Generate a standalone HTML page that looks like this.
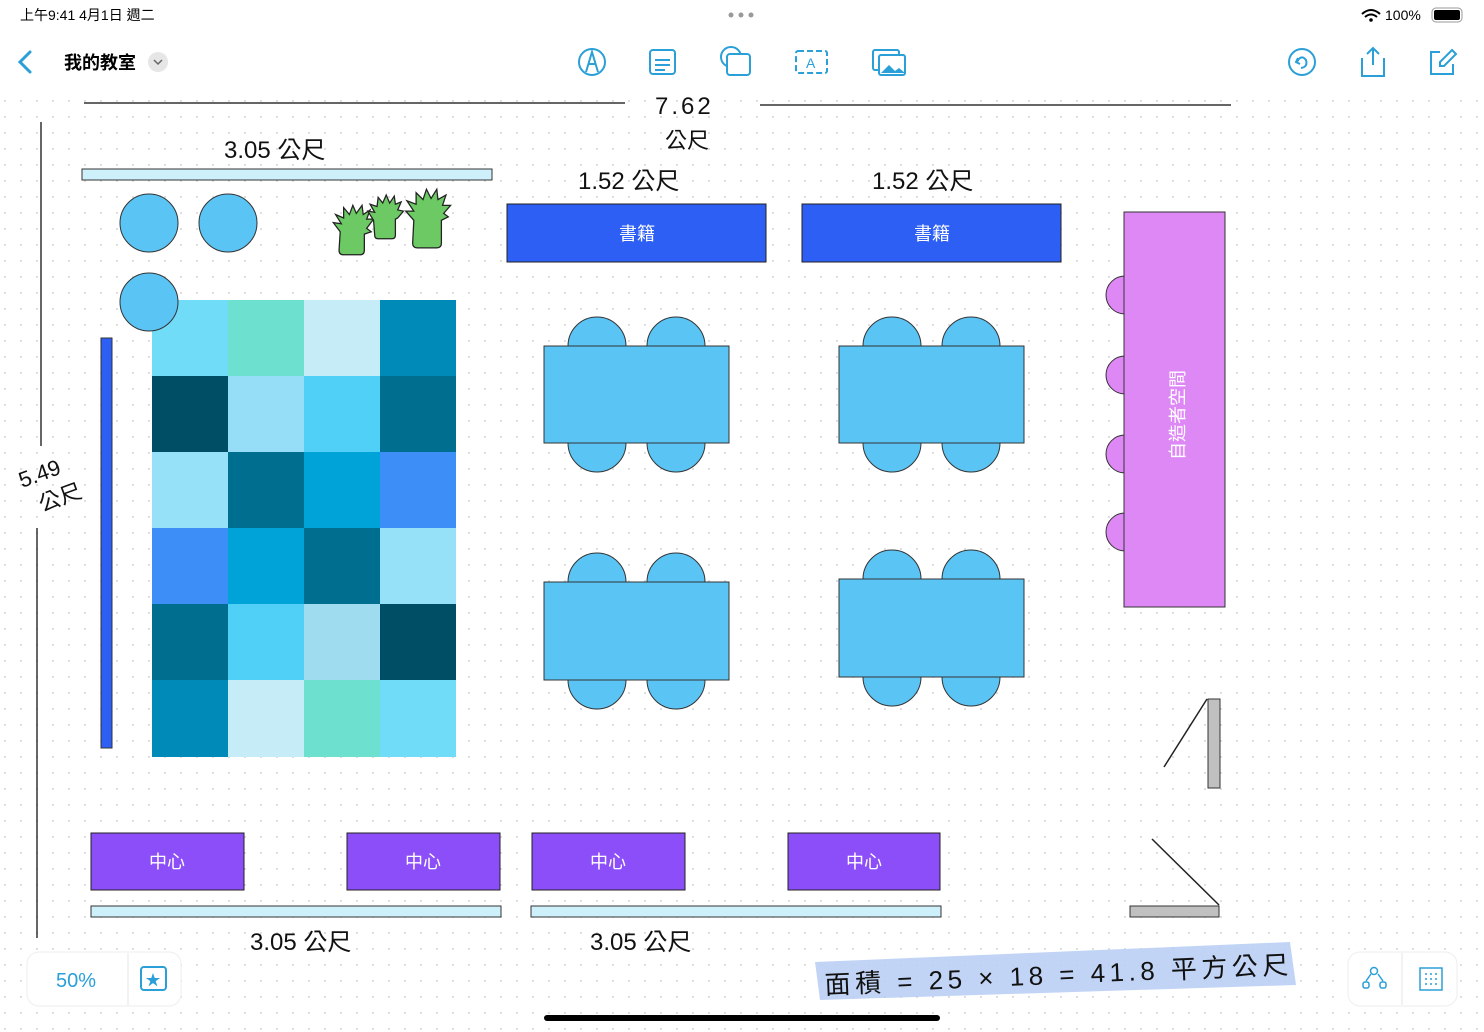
<!DOCTYPE html>
<html><head><meta charset="utf-8"><style>
html,body{margin:0;padding:0;width:1484px;height:1032px;overflow:hidden;background:#fff;font-family:"Liberation Sans","Noto Sans CJK TC",sans-serif}
svg{position:absolute;left:0;top:0}
</style></head><body>
<svg width="1484" height="1032" viewBox="0 0 1484 1032" xmlns="http://www.w3.org/2000/svg" font-family="Liberation Sans, Noto Sans CJK TC, sans-serif">
<defs>
<pattern id="dots" width="16" height="16" patternUnits="userSpaceOnUse" x="4" y="4"><circle cx="1" cy="1" r="1" fill="#d4d4d4"/></pattern>
</defs>
<rect x="0" y="90" width="1484" height="942" fill="url(#dots)"/>
<!-- status bar -->
<text x="20" y="20" font-size="14" fill="#000">上午9:41  4月1日 週二</text>
<circle cx="731" cy="15" r="2.5" fill="#999"/><circle cx="741" cy="15" r="2.5" fill="#999"/><circle cx="751" cy="15" r="2.5" fill="#999"/>
<text x="1385" y="20" font-size="14" fill="#000">100%</text>
<path d="M1362 14 q9 -8 18 0 M1365 17 q6 -5 12 0" stroke="#000" stroke-width="2" fill="none"/><circle cx="1371" cy="20" r="1.8"/>
<rect x="1432" y="8" width="30" height="14" rx="4" fill="none" stroke="#999"/><rect x="1434" y="10" width="26" height="10" rx="2" fill="#000"/>
<!-- toolbar -->
<path d="M30 52 L20 62 L30 72" stroke="#2a9fd8" stroke-width="3" fill="none" stroke-linecap="round"/>
<text x="64" y="69" font-size="18" font-weight="bold" fill="#000">我的教室</text>
<circle cx="158" cy="62" r="10" fill="#e6e6e6"/><path d="M154 60 l4 4 l4 -4" stroke="#666" stroke-width="1.5" fill="none"/>
<g stroke="#2a9fd8" stroke-width="2" fill="none">
<circle cx="592" cy="62" r="13"/><path d="M586 72 L592 52 L598 72 M589 64 h6"/>
<rect x="650" y="50" width="25" height="24" rx="3"/><path d="M655 60 h15 M655 65 h15 M655 70 h10"/>
<circle cx="731" cy="57" r="10"/><rect x="727" y="54" width="23" height="21" rx="3" fill="#fff"/>
<rect x="796" y="51" width="31" height="22" rx="2" stroke-dasharray="6 3"/>
<rect x="873" y="50" width="26" height="20" rx="2"/><rect x="879" y="55" width="26" height="20" rx="2" fill="#fff"/>
<circle cx="1302" cy="62" r="13"/><path d="M1298 58 l-2 4 l4 2 M1297 62 q4 -8 9 -2 q2 7 -5 8"/>
<path d="M1362 58 v18 h22 v-18 M1373 48 v17 M1367 54 l6 -6 l6 6"/>
<path d="M1440 52 h-9 v22 h22 v-10 M1452 50 l4 4 l-12 12 h-4 v-4 z"/>
</g>
<text x="806" y="68" font-size="14" fill="#2a9fd8">A</text>
<path d="M881 73 l8 -8 l6 6 l4 -3 l6 5 z" fill="#2a9fd8"/>
<!-- dimension lines -->
<g stroke="#333" stroke-width="1.5">
<line x1="84" y1="103" x2="625" y2="103"/><line x1="760" y1="105" x2="1231" y2="105"/>
<line x1="41" y1="122" x2="41" y2="446"/><line x1="37" y1="528" x2="37" y2="938"/>
</g>
<g font-family="Liberation Sans, Noto Sans CJK TC, sans-serif" fill="#111" font-size="24">
<text x="655" y="114" letter-spacing="3">7.62</text>
<text x="665" y="148" font-size="22">公尺</text>
<text x="224" y="158">3.05 公尺</text>
<text x="578" y="189">1.52 公尺</text>
<text x="872" y="189">1.52 公尺</text>
<text x="250" y="950">3.05 公尺</text>
<text x="590" y="950">3.05 公尺</text>
<text transform="translate(22,488) rotate(-20)" font-size="22">5.49</text>
<text transform="translate(42,512) rotate(-20)" font-size="22">公尺</text>
</g>
<!-- shelves -->
<g fill="#cdf0fb" stroke="#333" stroke-width="1">
<rect x="82" y="169" width="410" height="11"/>
<rect x="91" y="906" width="410" height="11"/>
<rect x="531" y="906" width="410" height="11"/>
</g>
<rect x="101" y="338" width="11" height="410" fill="#2d5ff5" stroke="#333"/>
<!-- circles -->
<g fill="#5ac4f5" stroke="#333" stroke-width="1">
<circle cx="149" cy="223" r="29"/><circle cx="228" cy="223" r="29"/>
</g>
<!-- rug -->
<g>
<rect x="152" y="300" width="76" height="76" fill="#70dcf8"/><rect x="228" y="300" width="76" height="76" fill="#6ee0d0"/><rect x="304" y="300" width="76" height="76" fill="#c6ecf8"/><rect x="380" y="300" width="76" height="76" fill="#008ab8"/>
<rect x="152" y="376" width="76" height="76" fill="#004d66"/><rect x="228" y="376" width="76" height="76" fill="#96def8"/><rect x="304" y="376" width="76" height="76" fill="#50d0f6"/><rect x="380" y="376" width="76" height="76" fill="#006e8e"/>
<rect x="152" y="452" width="76" height="76" fill="#96e0f8"/><rect x="228" y="452" width="76" height="76" fill="#006e8e"/><rect x="304" y="452" width="76" height="76" fill="#00a3d8"/><rect x="380" y="452" width="76" height="76" fill="#3e8ef8"/>
<rect x="152" y="528" width="76" height="76" fill="#3e8ef8"/><rect x="228" y="528" width="76" height="76" fill="#00a3d8"/><rect x="304" y="528" width="76" height="76" fill="#006e8e"/><rect x="380" y="528" width="76" height="76" fill="#96e0f8"/>
<rect x="152" y="604" width="76" height="76" fill="#006e8e"/><rect x="228" y="604" width="76" height="76" fill="#50d0f6"/><rect x="304" y="604" width="76" height="76" fill="#a0dcf0"/><rect x="380" y="604" width="76" height="76" fill="#004d66"/>
<rect x="152" y="680" width="76" height="77" fill="#008ab8"/><rect x="228" y="680" width="76" height="77" fill="#c6ecf8"/><rect x="304" y="680" width="76" height="77" fill="#6ee0d0"/><rect x="380" y="680" width="76" height="77" fill="#70dcf8"/>
</g>
<circle cx="149" cy="302" r="29" fill="#5ac4f5" stroke="#333"/>
<!-- plants -->
<g fill="#6cc964" stroke="#222" stroke-width="1.1" transform="translate(-60,-35) scale(1.15)">
<path d="M348 232 l-6 -8 l7 1 l-5 -8 l7 3 l0 -9 l5 6 l3 -8 l3 7 l5 -7 l1 8 l6 -4 l-3 8 l6 0 l-6 8 l4 3 l-6 2 v14 q0 4 -4 4 h-14 q-4 0 -4 -4 z"/>
<path d="M377 222 l-5 -8 l6 1 l-4 -7 l6 2 l1 -8 l4 5 l3 -7 l3 7 l4 -6 l1 7 l5 -2 l-3 7 l5 1 l-5 6 l-2 1 v14 q0 3 -3 3 h-12 q-3 0 -3 -3 z"/>
<path d="M412 222 l-7 -8 l7 0 l-6 -9 l8 3 l0 -10 l6 6 l3 -9 l4 8 l5 -8 l1 9 l7 -4 l-3 9 l7 0 l-6 7 l4 3 l-6 3 v20 q0 4 -4 4 h-17 q-4 0 -4 -4 z"/>
</g>
<!-- books -->
<rect x="507" y="204" width="259" height="58" fill="#2d5ff5" stroke="#222"/>
<rect x="802" y="204" width="259" height="58" fill="#2d5ff5" stroke="#222"/>
<text x="637" y="240" font-size="18" fill="#fff" text-anchor="middle">書籍</text>
<text x="932" y="240" font-size="18" fill="#fff" text-anchor="middle">書籍</text>
<!-- tables -->
<g fill="#5ac4f5" stroke="#333" stroke-width="1">
<circle cx="597" cy="346" r="29"/><circle cx="676" cy="346" r="29"/><circle cx="597" cy="443" r="29"/><circle cx="676" cy="443" r="29"/>
<rect x="544" y="346" width="185" height="97"/>
<circle cx="892" cy="346" r="29"/><circle cx="971" cy="346" r="29"/><circle cx="892" cy="443" r="29"/><circle cx="971" cy="443" r="29"/>
<rect x="839" y="346" width="185" height="97"/>
<circle cx="597" cy="582" r="29"/><circle cx="676" cy="582" r="29"/><circle cx="597" cy="680" r="29"/><circle cx="676" cy="680" r="29"/>
<rect x="544" y="582" width="185" height="98"/>
<circle cx="892" cy="579" r="29"/><circle cx="971" cy="579" r="29"/><circle cx="892" cy="677" r="29"/><circle cx="971" cy="677" r="29"/>
<rect x="839" y="579" width="185" height="98"/>
</g>
<!-- maker space -->
<g fill="#dd88f5" stroke="#333">
<circle cx="1125" cy="295" r="19"/><circle cx="1125" cy="375" r="19"/><circle cx="1125" cy="454" r="19"/><circle cx="1125" cy="532" r="19"/>
<rect x="1124" y="212" width="101" height="395"/>
</g>
<text transform="translate(1184,415) rotate(-90)" font-size="18" fill="#fff" text-anchor="middle">自造者空間</text>
<!-- doors -->
<rect x="1208" y="699" width="12" height="89" fill="#c0c0c0" stroke="#333"/>
<line x1="1207" y1="699" x2="1164" y2="767" stroke="#222" stroke-width="1.5"/>
<rect x="1130" y="906" width="89" height="11" fill="#c0c0c0" stroke="#333"/>
<line x1="1219" y1="905" x2="1152" y2="839" stroke="#222" stroke-width="1.5"/>
<!-- centers -->
<g fill="#8b4ef8" stroke="#222">
<rect x="91" y="833" width="153" height="57"/><rect x="347" y="833" width="153" height="57"/>
<rect x="532" y="833" width="153" height="57"/><rect x="788" y="833" width="152" height="57"/>
</g>
<g font-size="18" fill="#fff" text-anchor="middle">
<text x="167" y="868">中心</text><text x="423" y="868">中心</text><text x="608" y="868">中心</text><text x="864" y="868">中心</text>
</g>
<!-- area highlight -->
<path d="M815 962 L1290 942 L1296 985 L820 1000 Z" fill="#b7cdf3" opacity="0.85"/>
<text transform="translate(825,994) rotate(-2.5)" font-size="26" fill="#111" letter-spacing="4.5">面積 = 25 × 18 = 41.8 平方公尺</text>
<!-- bottom controls -->
<rect x="27" y="952" width="154" height="54" rx="12" fill="#fff" stroke="#eee"/>
<line x1="128" y1="953" x2="128" y2="1005" stroke="#e5e5e5"/>
<text x="76" y="987" font-size="20" fill="#2a9fd8" text-anchor="middle">50%</text>
<rect x="141" y="967" width="25" height="23" rx="3" fill="none" stroke="#2a9fd8" stroke-width="2"/>
<text x="153" y="985" font-size="15" fill="#2a9fd8" text-anchor="middle">★</text>
<rect x="1348" y="952" width="109" height="54" rx="12" fill="#fff" stroke="#eee"/>
<line x1="1402" y1="953" x2="1402" y2="1005" stroke="#e5e5e5"/>
<g stroke="#2a9fd8" stroke-width="1.5" fill="none">
<circle cx="1374" cy="971" r="3.5"/><rect x="1363" y="982" width="6" height="6" rx="2"/><rect x="1380" y="982" width="6" height="6" rx="2"/>
<path d="M1366 981 l5 -7 M1383 981 l-5 -7"/>
<rect x="1420" y="968" width="22" height="22"/>
</g>
<g fill="#2a9fd8"><circle cx="1426" cy="974" r="1"/><circle cx="1431" cy="974" r="1"/><circle cx="1436" cy="974" r="1"/><circle cx="1426" cy="979" r="1"/><circle cx="1431" cy="979" r="1"/><circle cx="1436" cy="979" r="1"/><circle cx="1426" cy="984" r="1"/><circle cx="1431" cy="984" r="1"/><circle cx="1436" cy="984" r="1"/></g>
<rect x="544" y="1015" width="396" height="6" rx="3" fill="#000"/>
</svg>
</body></html>
